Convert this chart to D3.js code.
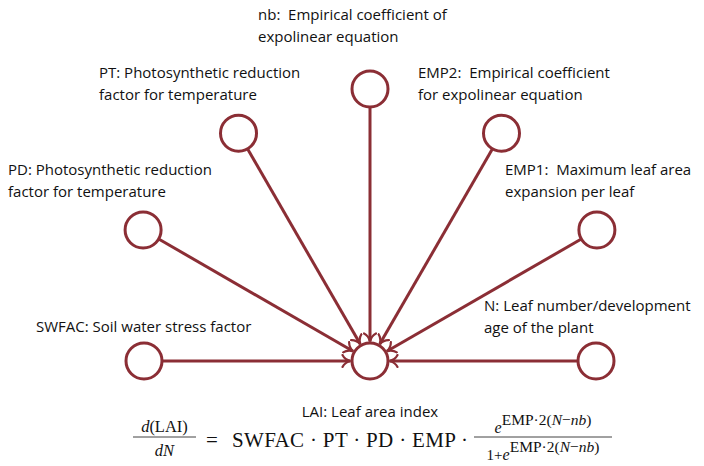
<!DOCTYPE html>
<html>
<head>
<meta charset="utf-8">
<script src="https://cdn.jsdelivr.net/npm/d3@7"></script>
<style>
  body { margin: 0; background: #fff; }
  text { font-family: "Open Sans", sans-serif; fill: #111; white-space: pre; }
  .eq text { font-family: "Liberation Serif", serif; }
</style>
</head>
<body>
<div class="diagram"></div>
<script>
// input variables, from left (west) round to right (east)
const inputs = ["SWFAC", "PD", "PT", "nb", "EMP2", "EMP1", "N"];
const labels = [
  ["SWFAC: Soil water stress factor"],
  ["PD: Photosynthetic reduction", "factor for temperature"],
  ["PT: Photosynthetic reduction", "factor for temperature"],
  ["nb:  Empirical coefficient of", "expolinear equation"],
  ["EMP2:  Empirical coefficient", "for expolinear equation"],
  ["EMP1:  Maximum leaf area", "expansion per leaf"],
  ["N: Leaf number/development", "age of the plant"]
];
const output = "LAI";
const outputLabel = "LAI: Leaf area index";
const product = ["SWFAC", "PT", "PD", "EMP"];

const width = 704, height = 466;
const color = "#8b2e35";
const cx = 370, cy = 361, r = 18;

// spoke length per position and where each label sits (layout only)
const spoke = [226, 262, 263, 272, 263, 262, 226];
const labelAt = [[36, 332], [8, 175], [99, 78], [258, 20], [418, 78], [505, 175], [484, 311]];

const angle = d3.scalePoint().domain(inputs).range([Math.PI, 0]);

const nodes = inputs.map((id, i) => {
  const a = angle(id);
  return { id: id, lines: labels[i], x: cx + spoke[i] * Math.cos(a), y: cy - spoke[i] * Math.sin(a), lx: labelAt[i][0], ly: labelAt[i][1] };
});

const svg = d3.select("div.diagram").append("svg")
  .attr("width", width)
  .attr("height", height);

// open, curved tikz-like arrow head
svg.append("defs").append("marker")
  .attr("id", "arrow")
  .attr("viewBox", "-10 -7 12 14")
  .attr("refX", 0)
  .attr("refY", 0)
  .attr("markerWidth", 12)
  .attr("markerHeight", 14)
  .attr("markerUnits", "userSpaceOnUse")
  .attr("orient", "auto")
  .append("path")
  .attr("d", "M-8,-6 C-6,-2 -2,-0.5 0,0 C-2,0.5 -6,2 -8,6")
  .attr("fill", "none")
  .attr("stroke", color)
  .attr("stroke-width", 2.2)
  .attr("stroke-linecap", "round");

const unit = d => Math.hypot(cx - d.x, cy - d.y);

svg.selectAll("line.link")
  .data(nodes)
  .enter().append("line")
  .attr("class", "link")
  .attr("x1", d => d.x + r * (cx - d.x) / unit(d))
  .attr("y1", d => d.y + r * (cy - d.y) / unit(d))
  .attr("x2", d => cx - (r + 1.5) * (cx - d.x) / unit(d))
  .attr("y2", d => cy - (r + 1.5) * (cy - d.y) / unit(d))
  .attr("stroke", color)
  .attr("stroke-width", 3)
  .attr("marker-end", "url(#arrow)");

svg.selectAll("circle.node")
  .data(nodes.concat([{ id: output, x: cx, y: cy }]))
  .enter().append("circle")
  .attr("class", "node")
  .attr("cx", d => d.x)
  .attr("cy", d => d.y)
  .attr("r", r)
  .attr("fill", "#fff")
  .attr("stroke", color)
  .attr("stroke-width", 3);

const lab = svg.selectAll("text.label")
  .data(nodes)
  .enter().append("text")
  .attr("class", "label")
  .attr("x", d => d.lx)
  .attr("y", d => d.ly)
  .attr("font-size", 15);

lab.selectAll("tspan")
  .data(d => d.lines.map(t => ({ t: t, x: d.lx })))
  .enter().append("tspan")
  .attr("x", d => d.x)
  .attr("dy", (d, i) => i ? 22 : 0)
  .text(d => d.t);

svg.append("text")
  .attr("x", cx)
  .attr("y", 417)
  .attr("text-anchor", "middle")
  .attr("font-size", 15)
  .text(outputLabel);

// the rate equation
const eq = svg.append("g").attr("class", "eq");

function frac(g, x0, x1, ty, by, top, bottom) {
  const mid = (x0 + x1) / 2;
  const t = g.append("text").attr("x", mid).attr("y", ty).attr("text-anchor", "middle");
  top(t);
  g.append("line").attr("x1", x0).attr("x2", x1).attr("y1", 437).attr("y2", 437)
    .attr("stroke", "#111").attr("stroke-width", 0.8);
  const b = g.append("text").attr("x", mid).attr("y", by).attr("text-anchor", "middle");
  bottom(b);
}

frac(eq, 133, 196, 432, 456,
  t => { t.attr("font-size", 16.5); t.append("tspan").attr("font-style", "italic").text("d"); t.append("tspan").text("(LAI)"); },
  b => { b.attr("font-size", 16.5); b.append("tspan").attr("font-style", "italic").text("dN"); });

eq.append("text").attr("x", 212).attr("y", 447).attr("text-anchor", "middle").attr("font-size", 21).text("=");

eq.append("text").attr("x", 232).attr("y", 447).attr("font-size", 21)
  .attr("textLength", 236).attr("lengthAdjust", "spacing")
  .text(product.join(" · ") + " ·");

function expo(t, lead) {
  if (lead) t.append("tspan").attr("font-size", 15).text(lead);
  t.append("tspan").attr("font-size", 16).attr("font-style", "italic").text("e");
  t.append("tspan").attr("dy", -8).attr("font-size", 15.5).text("EMP·2(");
  t.append("tspan").attr("font-size", 15.5).attr("font-style", "italic").text("N");
  t.append("tspan").attr("font-size", 15.5).text("−");
  t.append("tspan").attr("font-size", 15.5).attr("font-style", "italic").text("nb");
  t.append("tspan").attr("font-size", 15.5).text(")");
}

frac(eq, 474, 612, 433, 460, t => expo(t), b => expo(b, "1+"));
</script>
</body>
</html>
